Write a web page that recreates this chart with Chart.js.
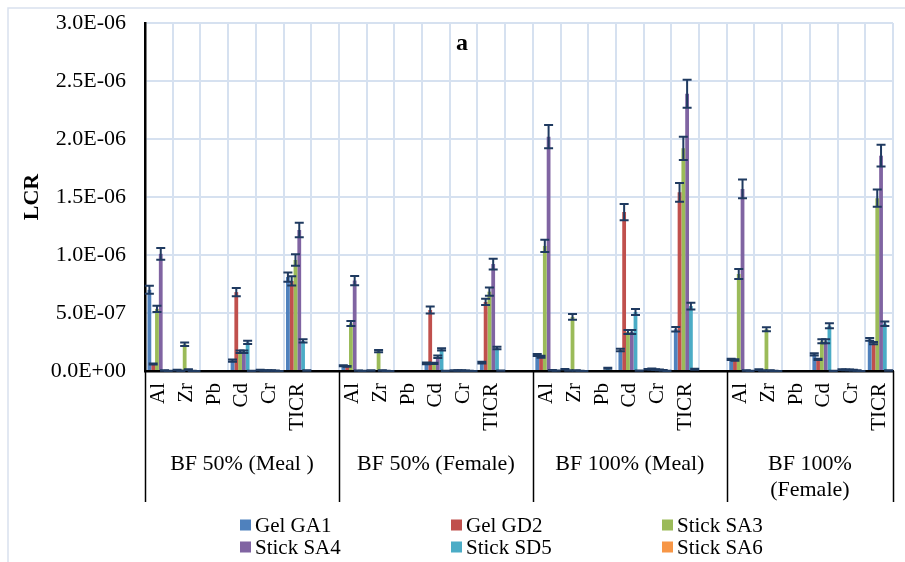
<!DOCTYPE html>
<html>
<head>
<meta charset="utf-8">
<script src="https://cdn.jsdelivr.net/npm/chart.js@4.4.1/dist/chart.umd.min.js"></script>
<style>
  html, body { margin: 0; padding: 0; background: #fff; }
  #wrap { width: 905px; height: 562px; }
</style>
</head>
<body>
<div id="wrap"><canvas id="mycanvas" width="905" height="562"></canvas></div>
<script>
// elements shown in each exposure group
var elements = ['Al', 'Zr', 'Pb', 'Cd', 'Cr', 'TICR'];
var groupNames = [['BF 50% (Meal )'], ['BF 50% (Female)'], ['BF 100% (Meal)'], ['BF 100%', '(Female)']];
var seriesNames = ['Gel GA1', 'Gel GD2', 'Stick SA3', 'Stick SA4', 'Stick SD5', 'Stick SA6'];
var seriesColors = ['#4F81BD', '#C0504D', '#9BBB59', '#8064A2', '#4BACC6', '#F79646'];
var yTicks = [0, 0.5e-6, 1.0e-6, 1.5e-6, 2.0e-6, 2.5e-6, 3.0e-6];

// values per series: 4 groups x (Al, Zr, Pb, Cd, Cr, TICR)
var gelGA1 = [
  0.70e-6, 0.008e-6, 0, 0.090e-6, 0.008e-6, 0.81e-6,
  0.045e-6, 0.005e-6, 0, 0.066e-6, 0.005e-6, 0.072e-6,
  0.138e-6, 0.015e-6, 0, 0.181e-6, 0.015e-6, 0.36e-6,
  0.100e-6, 0.012e-6, 0, 0.144e-6, 0.012e-6, 0.273e-6
];
var gelGD2 = [
  0.060e-6, 0.003e-6, 0, 0.68e-6, 0.005e-6, 0.776e-6,
  0.040e-6, 0, 0, 0.526e-6, 0.004e-6, 0.595e-6,
  0.123e-6, 0.005e-6, 0, 1.37e-6, 0.018e-6, 1.54e-6,
  0.095e-6, 0.004e-6, 0, 0.100e-6, 0.010e-6, 0.240e-6
];
var stickSA3 = [
  0.535e-6, 0.230e-6, 0, 0.166e-6, 0.005e-6, 0.957e-6,
  0.410e-6, 0.172e-6, 0, 0.066e-6, 0.004e-6, 0.684e-6,
  1.078e-6, 0.466e-6, 0, 0.336e-6, 0.012e-6, 1.92e-6,
  0.836e-6, 0.360e-6, 0, 0.256e-6, 0.010e-6, 1.49e-6
];
var stickSA4 = [
  1.01e-6, 0.012e-6, 0, 0.166e-6, 0.004e-6, 1.215e-6,
  0.78e-6, 0.004e-6, 0, 0.123e-6, 0.003e-6, 0.922e-6,
  2.02e-6, 0.005e-6, 0, 0.336e-6, 0.010e-6, 2.39e-6,
  1.57e-6, 0.004e-6, 0, 0.256e-6, 0.008e-6, 1.856e-6
];
var stickSD5 = [
  0.005e-6, 0.002e-6, 0, 0.247e-6, 0.003e-6, 0.259e-6,
  0.003e-6, 0.002e-6, 0, 0.187e-6, 0.002e-6, 0.198e-6,
  0.006e-6, 0.002e-6, 0.023e-6, 0.509e-6, 0.006e-6, 0.56e-6,
  0.005e-6, 0.002e-6, 0, 0.390e-6, 0.005e-6, 0.408e-6
];
var stickSA6 = [
  0.002e-6, 0.001e-6, 0, 0.002e-6, 0.001e-6, 0.004e-6,
  0.002e-6, 0.001e-6, 0, 0.002e-6, 0.001e-6, 0.003e-6,
  0.003e-6, 0.001e-6, 0, 0.003e-6, 0.002e-6, 0.015e-6,
  0.002e-6, 0.001e-6, 0, 0.002e-6, 0.001e-6, 0.005e-6
];

// error bars (same layout)
var errGA1 = [
  0.035e-6, 0.003e-6, 0, 0.010e-6, 0.003e-6, 0.040e-6,
  0.005e-6, 0.002e-6, 0, 0.008e-6, 0.002e-6, 0.008e-6,
  0.008e-6, 0.003e-6, 0, 0.010e-6, 0.003e-6, 0.020e-6,
  0.006e-6, 0.003e-6, 0, 0.010e-6, 0.003e-6, 0.012e-6
];
var errGD2 = [
  0.005e-6, 0.002e-6, 0, 0.035e-6, 0.002e-6, 0.040e-6,
  0.004e-6, 0, 0, 0.030e-6, 0.002e-6, 0.027e-6,
  0.008e-6, 0.002e-6, 0, 0.070e-6, 0.004e-6, 0.080e-6,
  0.006e-6, 0.002e-6, 0, 0.006e-6, 0.003e-6, 0.010e-6
];
var errSA3 = [
  0.027e-6, 0.015e-6, 0, 0.010e-6, 0.002e-6, 0.050e-6,
  0.022e-6, 0.010e-6, 0, 0.005e-6, 0.002e-6, 0.036e-6,
  0.053e-6, 0.025e-6, 0, 0.017e-6, 0.003e-6, 0.100e-6,
  0.043e-6, 0.018e-6, 0, 0.017e-6, 0.003e-6, 0.075e-6
];
var errSA4 = [
  0.050e-6, 0.003e-6, 0, 0.010e-6, 0.002e-6, 0.063e-6,
  0.040e-6, 0.002e-6, 0, 0.010e-6, 0.002e-6, 0.046e-6,
  0.100e-6, 0.002e-6, 0, 0.017e-6, 0.003e-6, 0.120e-6,
  0.080e-6, 0.002e-6, 0, 0.017e-6, 0.003e-6, 0.094e-6
];
var errSD5 = [
  0.002e-6, 0.001e-6, 0, 0.014e-6, 0.001e-6, 0.014e-6,
  0.001e-6, 0.001e-6, 0, 0.010e-6, 0.001e-6, 0.011e-6,
  0.002e-6, 0.001e-6, 0.004e-6, 0.026e-6, 0.002e-6, 0.029e-6,
  0.002e-6, 0.001e-6, 0, 0.022e-6, 0.002e-6, 0.019e-6
];
var errSA6 = [
  0.001e-6, 0, 0, 0.001e-6, 0, 0.002e-6,
  0.001e-6, 0, 0, 0.001e-6, 0, 0.001e-6,
  0.001e-6, 0, 0, 0.001e-6, 0.001e-6, 0.004e-6,
  0.001e-6, 0, 0, 0.001e-6, 0, 0.002e-6
];

var allValues = [gelGA1, gelGD2, stickSA3, stickSA4, stickSD5, stickSA6];
var allErrors = [errGA1, errGD2, errSA3, errSA4, errSD5, errSA6];

var FONT = "'Liberation Serif', 'Times New Roman', serif";

// a blank category goes between the groups
function spread(arr) {
  var out = [];
  for (var g = 0; g < groupNames.length; g++) {
    for (var k = 0; k < elements.length; k++) out.push(arr[g * elements.length + k]);
    if (g < groupNames.length - 1) out.push(null);
  }
  return out;
}
var labels = [];
for (var g = 0; g < groupNames.length; g++) {
  for (var k = 0; k < elements.length; k++) labels.push(elements[k]);
  if (g < groupNames.length - 1) labels.push('');
}

var datasets = [];
for (var i = 0; i < seriesNames.length; i++) {
  datasets.push({
    label: seriesNames[i],
    data: spread(allValues[i]),
    errors: spread(allErrors[i]),
    backgroundColor: seriesColors[i],
    borderWidth: 0,
    barPercentage: 1.0,
    categoryPercentage: 0.82
  });
}

function sci(v) {
  if (Math.abs(v) < 1e-15) return '0.0E+00';
  var parts = v.toExponential(1).split('e');
  var ex = parseInt(parts[1], 10);
  var s = ex < 0 ? '-' : '+';
  ex = Math.abs(ex);
  return parts[0] + 'E' + s + (ex < 10 ? '0' + ex : ex);
}

var errorBars = {
  id: 'errorBars',
  afterDatasetsDraw: function(chart) {
    var ctx = chart.ctx;
    var y = chart.scales.y;
    ctx.save();
    ctx.strokeStyle = '#1F3A60';
    ctx.lineWidth = 2;
    chart.data.datasets.forEach(function(ds, di) {
      var meta = chart.getDatasetMeta(di);
      meta.data.forEach(function(bar, j) {
        var v = ds.data[j];
        if (v === null || v === undefined) return;
        var e = ds.errors[j] || 0;
        if (v === 0 && e === 0) return;
        var top = y.getPixelForValue(v + e);
        var bot = y.getPixelForValue(Math.max(0, v - e));
        var x = bar.x;
        ctx.beginPath();
        ctx.moveTo(x, top); ctx.lineTo(x, bot);
        ctx.moveTo(x - 4.5, top); ctx.lineTo(x + 4.5, top);
        ctx.moveTo(x - 4.5, bot); ctx.lineTo(x + 4.5, bot);
        ctx.stroke();
      });
    });
    ctx.restore();
  }
};

var decorations = {
  id: 'decorations',
  beforeDraw: function(chart) {
    var ctx = chart.ctx;
    ctx.save();
    ctx.fillStyle = '#fff';
    ctx.fillRect(0, 0, chart.width, chart.height);
    ctx.strokeStyle = '#d9e1ee';
    ctx.lineWidth = 1.5;
    ctx.strokeRect(8, 8, chart.width + 10, chart.height + 10);
    ctx.restore();
  },
  afterDraw: function(chart) {
    var ctx = chart.ctx;
    var xs = chart.scales.x;
    var area = chart.chartArea;
    var cw = (xs.right - xs.left) / labels.length;
    ctx.save();
    // group dividers under the axis
    ctx.strokeStyle = '#000';
    ctx.lineWidth = 1.5;
    var bounds = [0, 7, 14, 21, 27];
    bounds.forEach(function(b) {
      var x = Math.round(xs.left + b * cw) + 0.5;
      ctx.beginPath();
      ctx.moveTo(x, area.bottom);
      ctx.lineTo(x, 502);
      ctx.stroke();
    });
    // group names
    ctx.fillStyle = '#000';
    ctx.font = '22px ' + FONT;
    ctx.textAlign = 'center';
    ctx.textBaseline = 'middle';
    for (var g = 0; g < groupNames.length; g++) {
      var cx = xs.left + (bounds[g] + bounds[g + 1]) / 2 * cw;
      var lines = groupNames[g];
      for (var l = 0; l < lines.length; l++) {
        ctx.fillText(lines[l], cx, 464 + l * 26);
      }
    }
    // panel letter
    ctx.font = 'bold 24px ' + FONT;
    ctx.fillText('a', 462, 44);
    // legend, three columns
    ctx.font = '21px ' + FONT;
    ctx.textAlign = 'left';
    var colX = [240, 451, 662];
    var rowY = [525, 547];
    for (var i = 0; i < seriesNames.length; i++) {
      var cxl = colX[i % 3];
      var cyl = rowY[Math.floor(i / 3)];
      ctx.fillStyle = seriesColors[i];
      ctx.fillRect(cxl, cyl - 5.5, 11, 11);
      ctx.fillStyle = '#000';
      ctx.fillText(seriesNames[i], cxl + 15, cyl + 1);
    }
    ctx.restore();
  }
};

var config = {
  type: 'bar',
  data: { labels: labels, datasets: datasets },
  options: {
    responsive: false,
    animation: false,
    layout: { padding: { top: 23, right: 12, left: 0, bottom: 0 } },
    plugins: {
      legend: { display: false },
      tooltip: { enabled: false }
    },
    scales: {
      x: {
        afterFit: function(scale) {
          scale.height = 191;
          scale.paddingLeft = 0;
          scale.paddingRight = 0;
        },
        grid: { color: '#d6e1f0', lineWidth: 2, drawTicks: false },
        border: { color: '#000', width: 2.5 },
        ticks: {
          autoSkip: false,
          maxRotation: 90,
          minRotation: 90,
          padding: 12,
          color: '#000',
          font: { family: FONT, size: 21 }
        }
      },
      y: {
        min: 0,
        max: 3e-6,
        afterFit: function(scale) {
          scale.width = 145;
          scale.paddingTop = 0;
          scale.paddingBottom = 0;
        },
        afterBuildTicks: function(scale) {
          scale.ticks = yTicks.map(function(v) { return { value: v }; });
        },
        grid: { color: '#d6e1f0', lineWidth: 2, drawTicks: false },
        border: { color: '#000', width: 2.5 },
        title: {
          display: true,
          text: 'LCR',
          color: '#000',
          font: { family: FONT, size: 22, weight: 'bold' },
          padding: { top: 19, bottom: 0 }
        },
        ticks: {
          padding: 19,
          color: '#000',
          font: { family: FONT, size: 22 },
          callback: function(v) { return sci(v); }
        }
      }
    }
  },
  plugins: [errorBars, decorations]
};

var myChart = new Chart(document.getElementById('mycanvas'), config);
</script>
</body>
</html>
